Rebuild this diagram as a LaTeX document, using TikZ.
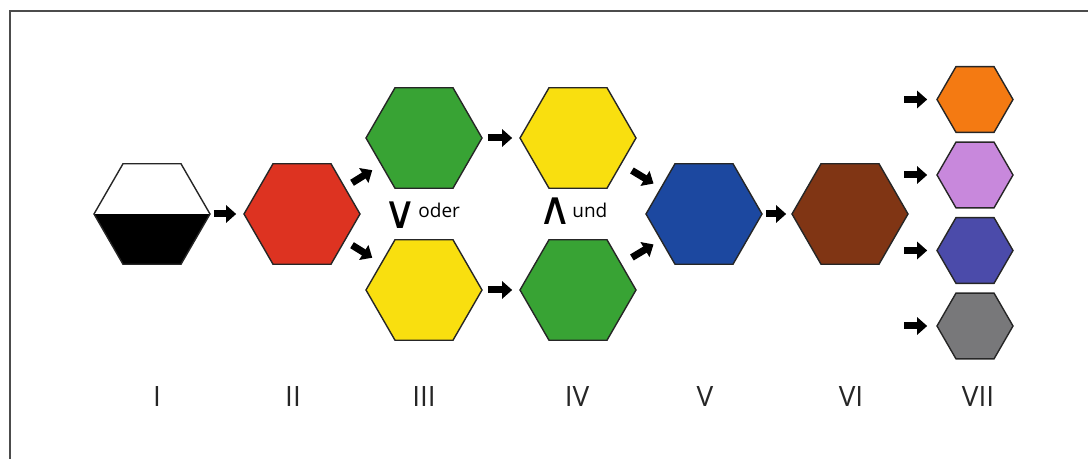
\documentclass[tikz,border=0pt]{standalone}
\usepackage{fontspec}
\setmainfont{Open Sans}
\newfontfamily\logicfont{DejaVu Sans}
\usepackage{xcolor}
\usetikzlibrary{shapes.geometric,arrows.meta}

\definecolor{hexred}{RGB}{221,51,33}
\definecolor{hexgreen}{RGB}{56,163,52}
\definecolor{hexyellow}{RGB}{249,223,15}
\definecolor{hexblue}{RGB}{28,72,160}
\definecolor{hexbrown}{RGB}{128,53,20}
\definecolor{hexorange}{RGB}{244,122,18}
\definecolor{hexlilac}{RGB}{200,136,220}
\definecolor{hexviolet}{RGB}{75,75,170}
\definecolor{hexgray}{RGB}{120,120,122}

\tikzset{
  hex/.style={regular polygon, regular polygon sides=6, minimum size=58pt, inner sep=0pt, draw=black!85, line width=0.7pt},
  smallhex/.style={hex, minimum size=38pt},
  arr/.style={line width=3.5pt, -{Triangle[length=5pt,width=8.5pt]}},
  numeral/.style={anchor=base, text=black!85, font=\fontsize{14}{16}\selectfont},
  logic/.style={inner sep=0pt, font=\logicfont\fontsize{23}{25}\selectfont},
  word/.style={anchor=base west, inner sep=0pt, font=\fontsize{9.5}{11}\selectfont}
}

\begin{document}
\begin{tikzpicture}[x=0.5pt, y=0.5pt]
  \useasboundingbox (0,0) rectangle (1088,459);
  \draw[black!70, line width=1pt] (10,0) -- (10,448) -- (1088,448);

  % hexagons
  \node[hex, fill=white, path picture={\fill[black] (path picture bounding box.west) rectangle (path picture bounding box.south east);}] (I) at (152,245) {};
  \node[hex, fill=hexred] (II) at (302,245) {};
  \node[hex, fill=hexgreen] (IIIa) at (424,321) {};
  \node[hex, fill=hexyellow] (IIIb) at (424,169) {};
  \node[hex, fill=hexyellow] (IVa) at (578,321) {};
  \node[hex, fill=hexgreen] (IVb) at (578,169) {};
  \node[hex, fill=hexblue] (V) at (704,245) {};
  \node[hex, fill=hexbrown] (VI) at (850,245) {};

  \draw[arr, shorten <=1.5pt, shorten >=3.5pt] (I) -- (II);
  \draw[arr, shorten <=4pt, shorten >=5pt] (II) -- (IIIa);
  \draw[arr, shorten <=4pt, shorten >=5pt] (II) -- (IIIb);
  \draw[arr, shorten <=2.5pt, shorten >=3.5pt] (IIIa) -- (IVa);
  \draw[arr, shorten <=2.5pt, shorten >=3.5pt] (IIIb) -- (IVb);
  \draw[arr, shorten <=6pt, shorten >=4pt] (IVa) -- (V);
  \draw[arr, shorten <=6pt, shorten >=4pt] (IVb) -- (V);
  \draw[arr, shorten <=1.5pt, shorten >=2.5pt] (V) -- (VI);

  \foreach \c/\y [count=\i from 1] in {hexorange/359.5, hexlilac/284, hexviolet/208.5, hexgray/133}{%
    \node[smallhex, fill=\c] (o\i) at (975,\y) {};
    \draw[arr, shorten >=4.5pt] ([xshift=-16pt]o\i.west) -- (o\i.west);
  }

  % labels
  \node[logic] (orsym) at (400,244) {∨};
  \node[word] (ortext) at (418,241) {oder};
  \node[logic] (andsym) at (555,247.5) {∧};
  \node[word] (andtext) at (572,241) {und};

  \foreach \t/\x in {I/157, II/293, III/424, IV/577, V/705, VI/851, VII/978}{%
    \node[numeral] (num\t) at (\x,52) {\t};
  }
\end{tikzpicture}
\end{document}
